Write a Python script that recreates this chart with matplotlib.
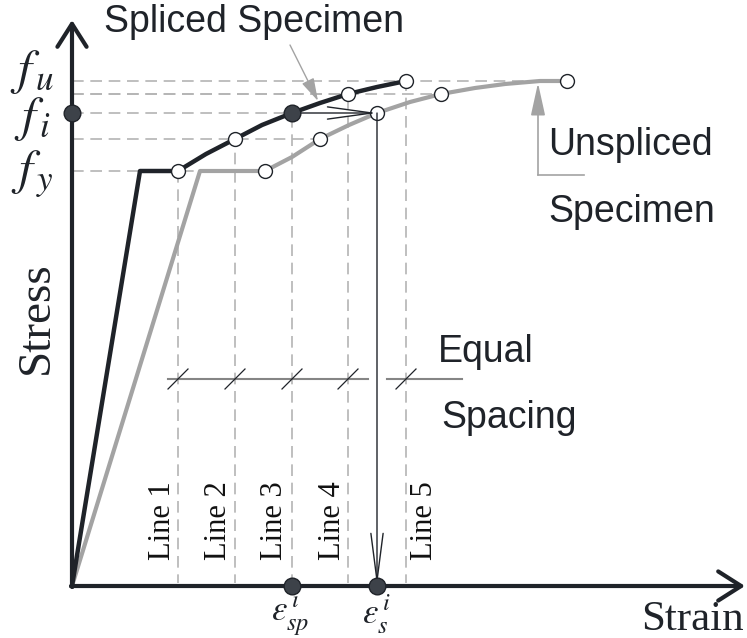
import matplotlib
matplotlib.use("Agg")
import matplotlib.pyplot as plt

plt.rcParams['mathtext.fontset'] = 'stix'

# curves (strain, stress in arbitrary units)
spl_strain = [0, 68, 106, 134, 163, 190, 220, 248, 276, 305, 334]
spl_stress = [0, 415, 415, 432, 447, 461, 473, 483, 492, 499, 505]
uns_strain = [0, 128, 193, 220, 248, 277, 305, 338, 369, 403, 433, 468, 495]
uns_stress = [0, 415, 415, 429, 447, 461, 473, 484, 492, 498, 502, 505, 505]

# equal spacing lines (strain) and the points where they cut the curves
line_strain = [106, 163, 220, 276, 334]
line_names = ['Line 1', 'Line 2', 'Line 3', 'Line 4', 'Line 5']
spl_pts_stress = [415, 447, 473, 492, 505]
uns_pts_strain = [193, 248, 305, 369, 495]
uns_pts_stress = [415, 447, 473, 492, 505]

fi = 473
eps_sp = 220
eps_s = 305

dark = '#1f2329'
grey = '#a3a3a3'
dash = '#b4b4b4'

fig = plt.figure(figsize=(7.47, 6.38), dpi=100)
ax = fig.add_axes([0, 0, 1, 1])
ax.set_xlim(-72, 675)
ax.set_ylim(-52, 586)
ax.axis('off')

dstyle = dict(color=dash, lw=1.2, ls=(0, (7, 4)), zorder=1)

# horizontal dashed lines to the y axis
for xs, ys in zip(uns_pts_strain, uns_pts_stress):
    if ys == fi:
        ax.plot([0, eps_sp], [ys, ys], **dstyle)
    else:
        ax.plot([0, xs], [ys, ys], **dstyle)
ax.plot([0, line_strain[3]], [spl_pts_stress[3], spl_pts_stress[3]], **dstyle)

# vertical dashed lines
for xs, ys in zip(line_strain, spl_pts_stress):
    ax.plot([xs, xs], [0, ys], **dstyle)
    ax.plot([xs, xs], [-3, 3], color='white', lw=3, zorder=5, solid_capstyle='butt')

# curves
ax.plot(uns_strain, uns_stress, color=grey, lw=3, zorder=2, solid_joinstyle='round')
ax.plot(spl_strain, spl_stress, color=dark, lw=3.2, zorder=3, solid_joinstyle='round')

# open circles
ax.plot(line_strain, spl_pts_stress, 'o', ms=10, mfc='white', mec=dark, mew=1, zorder=4)
ax.plot(uns_pts_strain, uns_pts_stress, 'o', ms=10, mfc='white', mec=dark, mew=1, zorder=4)

# filled dots
ax.plot([0, eps_sp, eps_sp, eps_s], [fi, fi, 0, 0], 'o', ms=12, mfc='#3d4249',
        mec=dark, mew=1, zorder=7)

# axes with arrows
ax.annotate('', xy=(0, 566), xytext=(0, -1),
            arrowprops=dict(arrowstyle='->,head_length=0.55,head_width=0.35', lw=3,
                            color=dark, mutation_scale=30, shrinkA=0, shrinkB=0), zorder=6)
ax.annotate('', xy=(673, 0), xytext=(-1, 0),
            arrowprops=dict(arrowstyle='->,head_length=0.55,head_width=0.35', lw=3,
                            color=dark, mutation_scale=30, shrinkA=0, shrinkB=0), zorder=6)

# f_i -> eps_s arrows
ax.annotate('', xy=(eps_s, fi), xytext=(eps_sp, fi),
            arrowprops=dict(arrowstyle='->,head_length=1.6,head_width=0.22', lw=1,
                            color=dark, mutation_scale=20, shrinkA=0, shrinkB=0), zorder=5)
ax.annotate('', xy=(eps_s, 0), xytext=(eps_s, fi),
            arrowprops=dict(arrowstyle='->,head_length=1.7,head_width=0.22', lw=1,
                            color=dark, mutation_scale=20, shrinkA=0, shrinkB=0), zorder=5)

# equal spacing marks
ax.plot([96, 296], [207, 207], color='#858585', lw=1.5, zorder=2)
ax.plot([315, 390], [207, 207], color='#858585', lw=1.5, zorder=2)
for xs in line_strain:
    ax.plot([xs - 10, xs + 10], [197, 217], color=dark, lw=0.9, zorder=3)

# line labels
lab_x = [91, 147, 203, 260, 353]
for xl, nm in zip(lab_x, line_names):
    ax.text(xl, 26, nm, rotation=90, ha='center', va='bottom', fontsize=22,
            family='Liberation Serif', color='#111111')

# leaders for the specimen labels
ax.annotate('', xy=(246, 485), xytext=(218, 541),
            arrowprops=dict(arrowstyle='-|>,head_length=0.7,head_width=0.2', lw=1,
                            color=grey, mutation_scale=20, shrinkA=0, shrinkB=0), zorder=5)
ax.plot([512, 466], [411, 411], color=grey, lw=1.2, zorder=2)
ax.annotate('', xy=(466, 503), xytext=(466, 411),
            arrowprops=dict(arrowstyle='-|>,head_length=1.0,head_width=0.22', lw=1.2,
                            color=grey, mutation_scale=20, shrinkA=0, shrinkB=0), zorder=5)

sans = dict(family='Liberation Sans', fontsize=27, color=dark, ha='center', va='center')
ax.text(182, 564, 'Spliced Specimen', **sans)
ax.text(558, 441, 'Unspliced', **sans)
ax.text(560, 374, 'Specimen', **sans)
ax.text(414, 234, 'Equal', **sans)
ax.text(437, 168, 'Spacing', **sans)

serif = dict(family='Liberation Serif', color=dark, ha='center', va='center')
ax.text(-35, 268, 'Stress', rotation=90, fontsize=34, **serif)
ax.text(620, -34, 'Strain', fontsize=31, **serif)

ax.text(-40, 514, r'$f_{\,u}$', fontsize=36, ha='center', va='center', color=dark)
ax.text(-40, 467, r'$f_{\,i}$', fontsize=36, ha='center', va='center', color=dark)
ax.text(-40, 412, r'$f_{\,y}$', fontsize=36, ha='center', va='center', color=dark)
ax.text(eps_sp - 2, -28, r'$\varepsilon_{sp}^{\,i}$', fontsize=25, ha='center', va='center', color=dark)
ax.text(eps_s, -28, r'$\varepsilon_{s}^{\,i}$', fontsize=25, ha='center', va='center', color=dark)

fig.savefig('out.png', dpi=100)
